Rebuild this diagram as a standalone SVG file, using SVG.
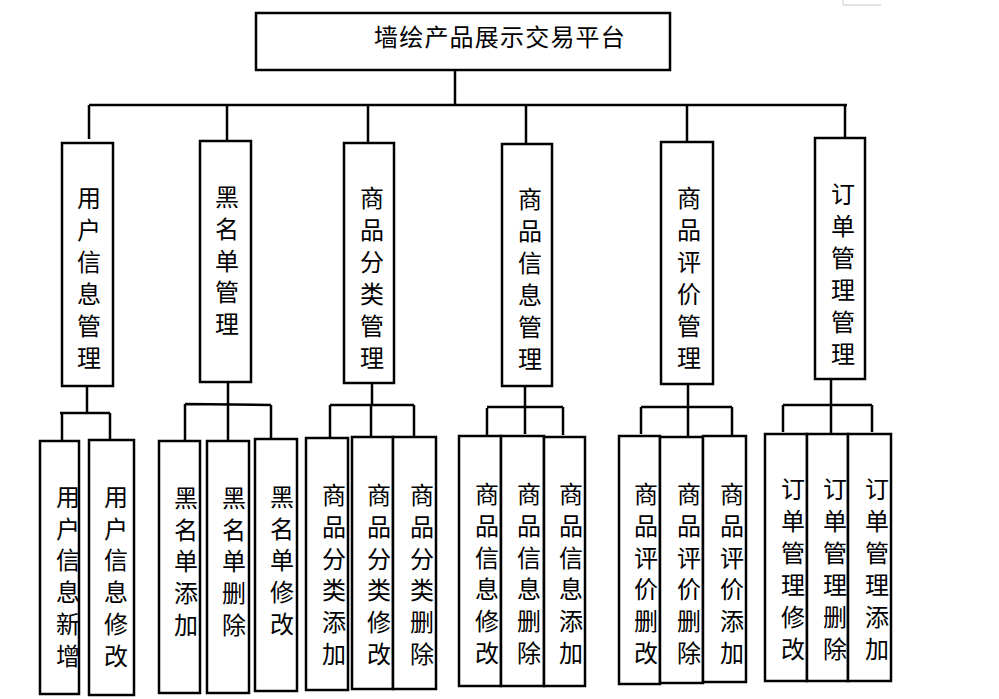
<svg xmlns="http://www.w3.org/2000/svg" width="999" height="699" viewBox="0 0 999 699">
<style>
.box{fill:#fff;stroke:#000;stroke-width:2.5}
.ln{fill:none;stroke:#000;stroke-width:2.5}
.t{font-family:"Noto Sans CJK SC","Noto Sans CJK JP",sans-serif;font-size:24px;fill:#000;text-anchor:middle}
.tt{font-family:"Noto Sans CJK SC","Noto Sans CJK JP",sans-serif;font-size:24px;fill:#000;letter-spacing:1.2px}
</style>
<rect width="999" height="699" fill="#fff"/>
<path d="M843,0 V5 H881" fill="none" stroke="#c8c8c8" stroke-width="1"/>
<g id="connectors">
<path class="ln" d="M455,70 V106 M89,105 H847 M89,105 V139 M227,105 V141 M368,105 V143 M526,105 V144 M687,105 V142 M845,105 V139"/>
<path class="ln" d="M87,386 V413 M60,413 H110 M62,413 V441 M110,413 V442"/>
<path class="ln" d="M228,382 V441 M185,404 L271,405 M185,404 V441 M271,405 V439"/>
<path class="ln" d="M372,383 V405 M330,405 H414 M330,405 V438 M371,405 V437 M414,405 V437"/>
<path class="ln" d="M525,386 V434 M487,407 H563 M487,408 V436 M563,407 V435"/>
<path class="ln" d="M688,384 V436 M641,407 H732 M641,407 V434 M732,407 V435"/>
<path class="ln" d="M831,379 V434 M783,405 H872 M783,405 V432 M872,405 V432"/>
</g>
<g id="root">
<rect class="box" x="256" y="13" width="414" height="57"/>
<text class="tt" x="374" y="46">墙绘产品展示交易平台</text>
</g>
<g id="n1">
<rect class="box" x="62" y="143" width="51" height="243"/>
<text class="t"><tspan x="89" y="207">用</tspan><tspan x="89" dy="32">户</tspan><tspan x="89" dy="32">信</tspan><tspan x="89" dy="32">息</tspan><tspan x="89" dy="32">管</tspan><tspan x="89" dy="32">理</tspan></text>
</g>
<g id="n2">
<rect class="box" x="200" y="141" width="51" height="241"/>
<text class="t"><tspan x="227" y="206">黑</tspan><tspan x="227" dy="31.8">名</tspan><tspan x="227" dy="31.8">单</tspan><tspan x="227" dy="31.8">管</tspan><tspan x="227" dy="31.8">理</tspan></text>
</g>
<g id="n3">
<rect class="box" x="344" y="143" width="50" height="240"/>
<text class="t"><tspan x="372" y="207">商</tspan><tspan x="372" dy="32">品</tspan><tspan x="372" dy="32">分</tspan><tspan x="372" dy="32">类</tspan><tspan x="372" dy="32">管</tspan><tspan x="372" dy="32">理</tspan></text>
</g>
<g id="n4">
<rect class="box" x="502" y="144" width="50" height="242"/>
<text class="t"><tspan x="530" y="208">商</tspan><tspan x="530" dy="32">品</tspan><tspan x="530" dy="32">信</tspan><tspan x="530" dy="32">息</tspan><tspan x="530" dy="32">管</tspan><tspan x="530" dy="32">理</tspan></text>
</g>
<g id="n5">
<rect class="box" x="661" y="142" width="52" height="242"/>
<text class="t"><tspan x="689" y="207">商</tspan><tspan x="689" dy="32">品</tspan><tspan x="689" dy="32">评</tspan><tspan x="689" dy="32">价</tspan><tspan x="689" dy="32">管</tspan><tspan x="689" dy="32">理</tspan></text>
</g>
<g id="n6">
<rect class="box" x="815" y="138" width="50" height="241"/>
<text class="t"><tspan x="843" y="203">订</tspan><tspan x="843" dy="32">单</tspan><tspan x="843" dy="32">管</tspan><tspan x="843" dy="32">理</tspan><tspan x="843" dy="32">管</tspan><tspan x="843" dy="32">理</tspan></text>
</g>
<g id="l1a">
<rect class="box" x="40" y="441" width="39" height="253"/>
<text class="t"><tspan x="68" y="506">用</tspan><tspan x="68" dy="31.7">户</tspan><tspan x="68" dy="31.7">信</tspan><tspan x="68" dy="31.7">息</tspan><tspan x="68" dy="31.7">新</tspan><tspan x="68" dy="31.7">增</tspan></text>
</g>
<g id="l1b">
<rect class="box" x="89" y="440" width="45" height="255"/>
<text class="t"><tspan x="116" y="506">用</tspan><tspan x="116" dy="31.7">户</tspan><tspan x="116" dy="31.7">信</tspan><tspan x="116" dy="31.7">息</tspan><tspan x="116" dy="31.7">修</tspan><tspan x="116" dy="31.7">改</tspan></text>
</g>
<g id="l2a">
<rect class="box" x="159" y="441" width="41" height="252"/>
<text class="t"><tspan x="186" y="507">黑</tspan><tspan x="186" dy="31.7">名</tspan><tspan x="186" dy="31.7">单</tspan><tspan x="186" dy="31.7">添</tspan><tspan x="186" dy="31.7">加</tspan></text>
</g>
<g id="l2b">
<rect class="box" x="207" y="441" width="42" height="252"/>
<text class="t"><tspan x="234" y="507">黑</tspan><tspan x="234" dy="31.7">名</tspan><tspan x="234" dy="31.7">单</tspan><tspan x="234" dy="31.7">删</tspan><tspan x="234" dy="31.7">除</tspan></text>
</g>
<g id="l2c">
<rect class="box" x="255" y="439" width="42" height="252"/>
<text class="t"><tspan x="282" y="506">黑</tspan><tspan x="282" dy="31.7">名</tspan><tspan x="282" dy="31.7">单</tspan><tspan x="282" dy="31.7">修</tspan><tspan x="282" dy="31.7">改</tspan></text>
</g>
<g id="l3a">
<rect class="box" x="306" y="438" width="42" height="252"/>
<text class="t"><tspan x="334" y="504">商</tspan><tspan x="334" dy="31.8">品</tspan><tspan x="334" dy="31.8">分</tspan><tspan x="334" dy="31.8">类</tspan><tspan x="334" dy="31.8">添</tspan><tspan x="334" dy="31.8">加</tspan></text>
</g>
<g id="l3b">
<rect class="box" x="352" y="437" width="41" height="252"/>
<text class="t"><tspan x="379" y="504">商</tspan><tspan x="379" dy="31.8">品</tspan><tspan x="379" dy="31.8">分</tspan><tspan x="379" dy="31.8">类</tspan><tspan x="379" dy="31.8">修</tspan><tspan x="379" dy="31.8">改</tspan></text>
</g>
<g id="l3c">
<rect class="box" x="393" y="437" width="43" height="252"/>
<text class="t"><tspan x="422" y="504">商</tspan><tspan x="422" dy="31.8">品</tspan><tspan x="422" dy="31.8">分</tspan><tspan x="422" dy="31.8">类</tspan><tspan x="422" dy="31.8">删</tspan><tspan x="422" dy="31.8">除</tspan></text>
</g>
<g id="l4a">
<rect class="box" x="459" y="436" width="42" height="250"/>
<text class="t"><tspan x="487" y="503">商</tspan><tspan x="487" dy="31.8">品</tspan><tspan x="487" dy="31.8">信</tspan><tspan x="487" dy="31.8">息</tspan><tspan x="487" dy="31.8">修</tspan><tspan x="487" dy="31.8">改</tspan></text>
</g>
<g id="l4b">
<rect class="box" x="501" y="436" width="43" height="250"/>
<text class="t"><tspan x="529" y="503">商</tspan><tspan x="529" dy="31.8">品</tspan><tspan x="529" dy="31.8">信</tspan><tspan x="529" dy="31.8">息</tspan><tspan x="529" dy="31.8">删</tspan><tspan x="529" dy="31.8">除</tspan></text>
</g>
<g id="l4c">
<rect class="box" x="544" y="437" width="41" height="249"/>
<text class="t"><tspan x="571" y="503">商</tspan><tspan x="571" dy="31.8">品</tspan><tspan x="571" dy="31.8">信</tspan><tspan x="571" dy="31.8">息</tspan><tspan x="571" dy="31.8">添</tspan><tspan x="571" dy="31.8">加</tspan></text>
</g>
<g id="l5a">
<rect class="box" x="619" y="436" width="41" height="248"/>
<text class="t"><tspan x="646" y="503">商</tspan><tspan x="646" dy="31.8">品</tspan><tspan x="646" dy="31.8">评</tspan><tspan x="646" dy="31.8">价</tspan><tspan x="646" dy="31.8">删</tspan><tspan x="646" dy="31.8">改</tspan></text>
</g>
<g id="l5b">
<rect class="box" x="660" y="437" width="43" height="246"/>
<text class="t"><tspan x="689" y="503">商</tspan><tspan x="689" dy="31.8">品</tspan><tspan x="689" dy="31.8">评</tspan><tspan x="689" dy="31.8">价</tspan><tspan x="689" dy="31.8">删</tspan><tspan x="689" dy="31.8">除</tspan></text>
</g>
<g id="l5c">
<rect class="box" x="703" y="436" width="43" height="246"/>
<text class="t"><tspan x="732" y="503">商</tspan><tspan x="732" dy="31.8">品</tspan><tspan x="732" dy="31.8">评</tspan><tspan x="732" dy="31.8">价</tspan><tspan x="732" dy="31.8">添</tspan><tspan x="732" dy="31.8">加</tspan></text>
</g>
<g id="l6a">
<rect class="box" x="765" y="434" width="42" height="247"/>
<text class="t"><tspan x="793" y="498">订</tspan><tspan x="793" dy="32">单</tspan><tspan x="793" dy="32">管</tspan><tspan x="793" dy="32">理</tspan><tspan x="793" dy="32">修</tspan><tspan x="793" dy="32">改</tspan></text>
</g>
<g id="l6b">
<rect class="box" x="807" y="434" width="41" height="247"/>
<text class="t"><tspan x="835" y="498">订</tspan><tspan x="835" dy="32">单</tspan><tspan x="835" dy="32">管</tspan><tspan x="835" dy="32">理</tspan><tspan x="835" dy="32">删</tspan><tspan x="835" dy="32">除</tspan></text>
</g>
<g id="l6c">
<rect class="box" x="848" y="434" width="43" height="247"/>
<text class="t"><tspan x="877" y="498">订</tspan><tspan x="877" dy="32">单</tspan><tspan x="877" dy="32">管</tspan><tspan x="877" dy="32">理</tspan><tspan x="877" dy="32">添</tspan><tspan x="877" dy="32">加</tspan></text>
</g>
</svg>
